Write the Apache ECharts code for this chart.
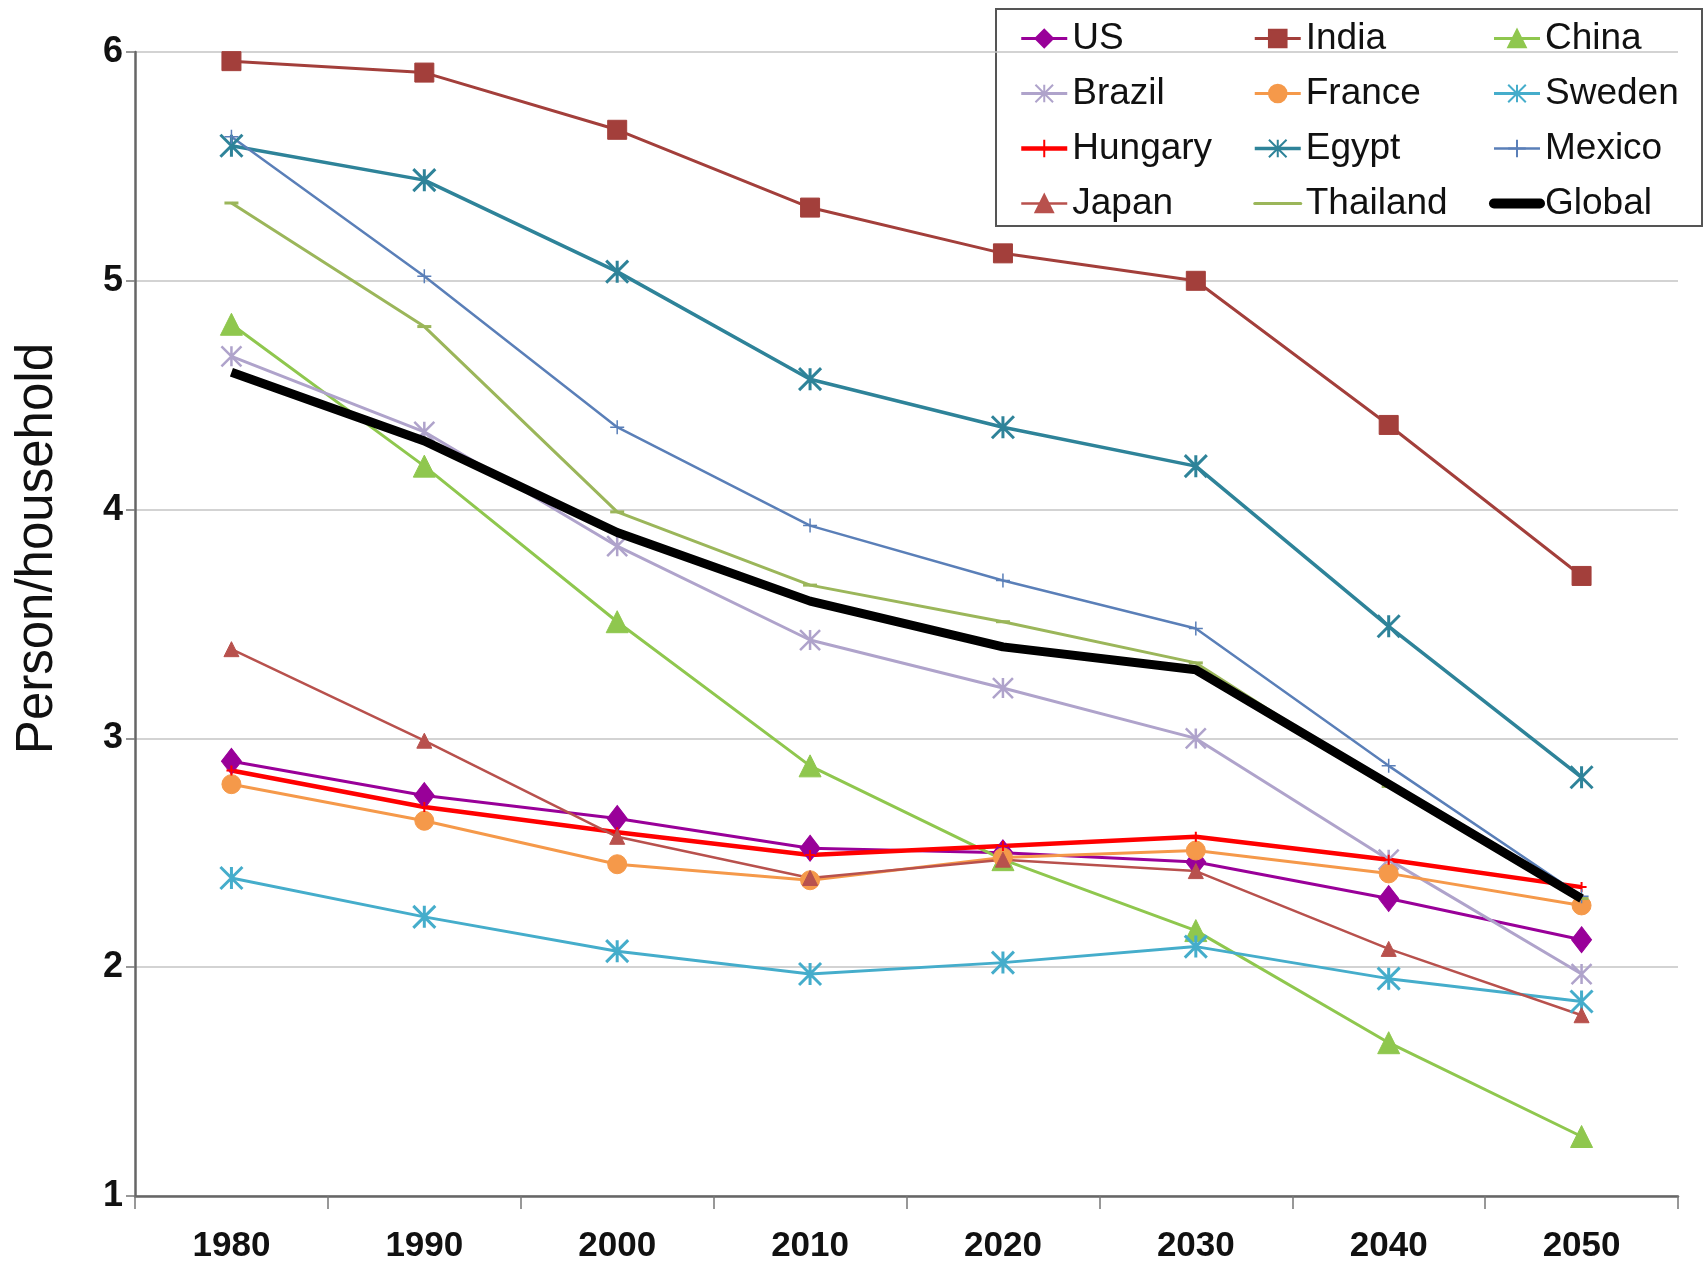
<!DOCTYPE html>
<html>
<head>
<meta charset="utf-8">
<title>Person/household</title>
<script src="https://cdn.jsdelivr.net/npm/echarts@6/dist/echarts.min.js"></script>
<style>
    html, body { margin: 0; padding: 0; background: #fff; }
    #chart { width: 1705px; height: 1278px; }
</style>
</head>
<body>
<div id="chart"></div>
<script>
;(function () {
    'use strict';

    // 数据
    var years = ['1980', '1990', '2000', '2010', '2020', '2030', '2040', '2050'];
    var yTicks = [1, 2, 3, 4, 5, 6];

    var usData       = [2.90, 2.75, 2.65, 2.52, 2.50, 2.46, 2.30, 2.12];
    var indiaData    = [5.96, 5.91, 5.66, 5.32, 5.12, 5.00, 4.37, 3.71];
    var chinaData    = [4.81, 4.19, 3.51, 2.88, 2.47, 2.16, 1.67, 1.26];
    var brazilData   = [4.67, 4.34, 3.84, 3.43, 3.22, 3.00, 2.47, 1.97];
    var franceData   = [2.80, 2.64, 2.45, 2.38, 2.48, 2.51, 2.41, 2.27];
    var swedenData   = [2.39, 2.22, 2.07, 1.97, 2.02, 2.09, 1.95, 1.85];
    var hungaryData  = [2.86, 2.70, 2.59, 2.49, 2.53, 2.57, 2.47, 2.35];
    var egyptData    = [5.59, 5.44, 5.04, 4.57, 4.36, 4.19, 3.49, 2.83];
    var mexicoData   = [5.63, 5.02, 4.36, 3.93, 3.69, 3.48, 2.88, 2.31];
    var japanData    = [3.39, 2.99, 2.57, 2.39, 2.47, 2.42, 2.08, 1.79];
    var thailandData = [5.34, 4.80, 3.99, 3.67, 3.51, 3.33, 2.79, 2.30];
    var globalData   = [4.60, 4.30, 3.90, 3.60, 3.40, 3.30, 2.80, 2.30];

    // 标记形状
    var starPath = 'path://M0,0L10,10M10,0L0,10M5,0L5,10';
    var plusPath = 'path://M5,0L5,10M0,5L10,5';

    var textFont = "'Liberation Sans', Arial, sans-serif";

    function line(name, data, color, width, symbol, size, border) {
        return {
            name: name,
            type: 'line',
            data: data,
            symbol: symbol,
            symbolSize: size,
            showSymbol: symbol !== 'none',
            showAllSymbol: true,
            lineStyle: { color: color, width: width },
            itemStyle: { color: color, borderColor: color, borderWidth: border },
            emphasis: { disabled: true }
        };
    }

    var series = [
        line('US', usData, '#990099', 3, 'diamond', [20, 26], 1),
        line('India', indiaData, '#A33F3B', 3, 'rect', 19, 1),
        line('China', chinaData, '#8FC74E', 3, 'triangle', [22, 22], 1),
        line('Brazil', brazilData, '#AFA3CB', 3, starPath, 20, 2.5),
        line('France', franceData, '#F5994A', 3, 'circle', 19, 1),
        line('Sweden', swedenData, '#45ADCB', 3, starPath, 22, 3),
        line('Hungary', hungaryData, '#FF0000', 4.5, plusPath, 10, 2),
        line('Egypt', egyptData, '#2E8399', 3.5, starPath, 22, 3),
        line('Mexico', mexicoData, '#5A7FB8', 2.5, plusPath, 14, 1.5),
        line('Japan', japanData, '#B8514D', 2.5, 'triangle', [15, 15], 1),
        line('Thailand', thailandData, '#9BB65A', 3, 'rect', [14, 3], 0),
        line('Global', globalData, '#000000', 9, 'none', 0, 0)
    ];
    series[11].z = 5;

    // 只显示线的图例项
    function lineOnly(name, w) {
        return { name: name, itemStyle: { opacity: 0 }, lineStyle: { width: w, cap: 'round' } };
    }

    function legendCol(left, names) {
        return {
            orient: 'vertical',
            left: left,
            top: 15,
            itemWidth: 46,
            itemHeight: 22,
            itemGap: 18,
            selectedMode: false,
            lineStyle: { width: 'inherit' },
            textStyle: { fontFamily: textFont, fontSize: 37, color: '#111' },
            data: names
        };
    }

    var option = {
        animation: false,
        backgroundColor: '#fff',
        grid: { left: 135, right: 27, top: 52, bottom: 82 },
        legend: [
            legendCol(1014, ['US', 'Brazil', 'Hungary', 'Japan']),
            legendCol(1248, ['India', 'France', 'Egypt', lineOnly('Thailand', 3)]),
            legendCol(1484, ['China', 'Sweden', 'Mexico', lineOnly('Global', 10)])
        ],
        graphic: [
            {
                type: 'rect',
                z: 0,
                shape: { x: 996, y: 9, width: 706, height: 217 },
                style: { fill: '#fff', stroke: '#555', lineWidth: 2 }
            },
            {
                type: 'text',
                left: 12,
                top: 343,
                style: {
                    text: 'Person/household',
                    fontFamily: textFont,
                    fontSize: 51,
                    fill: '#111'
                },
                rotation: Math.PI / 2,
                originX: 0,
                originY: 0
            }
        ],
        // x轴
        xAxis: {
            type: 'category',
            data: years,
            boundaryGap: true,
            axisLine: { lineStyle: { color: '#666', width: 2.5 } },
            axisTick: { show: true, inside: false, length: 13, lineStyle: { color: '#777', width: 1.5 } },
            axisLabel: {
                margin: 33,
                fontFamily: textFont,
                fontWeight: 'bold',
                fontSize: 35,
                color: '#111'
            },
            splitLine: { show: false }
        },
        // y轴
        yAxis: {
            type: 'value',
            min: yTicks[0],
            max: yTicks[yTicks.length - 1],
            interval: 1,
            axisLine: { show: true, lineStyle: { color: '#666', width: 2.5 } },
            axisTick: { show: true, inside: false, length: 9, lineStyle: { color: '#777', width: 1.5 } },
            axisLabel: {
                margin: 12,
                fontFamily: textFont,
                fontWeight: 'bold',
                fontSize: 36,
                color: '#111'
            },
            splitLine: { show: true, lineStyle: { color: '#c4c4c4', width: 1.5 } }
        },
        series: series
    };

    var chart = echarts.init(document.getElementById('chart'));
    chart.setOption(option);
})();
</script>
</body>
</html>
